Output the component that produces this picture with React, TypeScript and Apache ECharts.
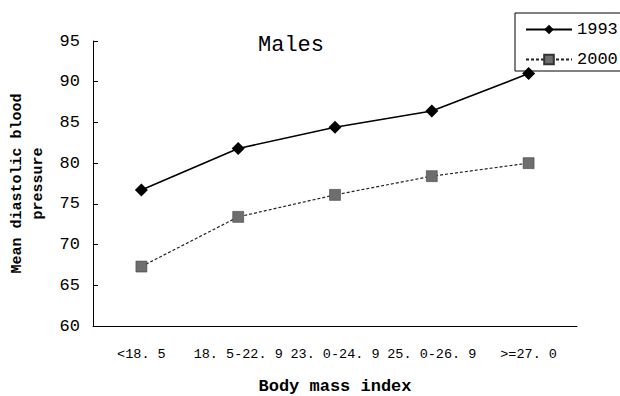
import React, { useEffect, useRef } from "react";
import * as echarts from "echarts";

const categories = ["<18. 5", "18. 5-22. 9", "23. 0-24. 9", "25. 0-26. 9", ">=27. 0"];
const values1993 = [76.7, 81.8, 84.4, 86.4, 91.0];
const values2000 = [67.3, 73.4, 76.1, 78.4, 80.0];
const yTicks = { min: 60, max: 95, interval: 5 };

export default function App() {
  const ref = useRef<HTMLDivElement>(null);
  useEffect(() => {
    document.body.style.margin = "0";
    if (!ref.current) return;
    const chart = echarts.init(ref.current, null, { renderer: "svg" });
    const mono = "Liberation Mono";
    chart.setOption({
      animation: false,
      backgroundColor: "#ffffff",
      title: {
        text: "Males",
        left: 286,
        top: 29,
        textAlign: "center",
        textStyle: { fontFamily: mono, fontSize: 22, fontWeight: "normal", color: "#000" },
      },
      legend: {
        orient: "vertical",
        left: 520,
        top: 16,
        itemWidth: 46,
        itemHeight: 12,
        itemGap: 13,
        textStyle: { fontFamily: mono, fontSize: 17, color: "#000" },
        data: ["1993", "2000"],
      },
      graphic: [
        {
          type: "rect",
          shape: { x: 515, y: 13, width: 120, height: 58 },
          style: { fill: "none", stroke: "#000", lineWidth: 1 },
          z: 10,
        },
      ],
      grid: { left: 93, right: 43, top: 41, bottom: 70, outerBoundsMode: "none", containLabel: false },
      xAxis: {
        type: "category",
        data: categories,
        boundaryGap: true,
        name: "Body mass index",
        nameLocation: "middle",
        nameGap: 52,
        nameTextStyle: { fontFamily: mono, fontSize: 17, fontWeight: "bold", color: "#000" },
        axisLine: { lineStyle: { color: "#000", width: 1 } },
        axisTick: { inside: true, length: 5, alignWithLabel: false, lineStyle: { color: "#000" } },
        axisLabel: { fontFamily: mono, fontSize: 13.5, color: "#000", margin: 21, interval: 0 },
        splitLine: { show: false },
      },
      yAxis: {
        type: "value",
        min: yTicks.min,
        max: yTicks.max,
        interval: yTicks.interval,
        name: "Mean diastolic blood\npressure",
        nameLocation: "middle",
        nameGap: 36,
        nameTextStyle: { fontFamily: mono, fontSize: 15, fontWeight: "bold", color: "#000", lineHeight: 21 },
        axisLine: { show: true, lineStyle: { color: "#000", width: 1 } },
        axisTick: { show: true, inside: true, length: 5, lineStyle: { color: "#000" } },
        axisLabel: { fontFamily: mono, fontSize: 17, color: "#000", margin: 13 },
        splitLine: { show: false },
      },
      series: [
        {
          name: "1993",
          type: "line",
          data: values1993,
          symbol: "diamond",
          symbolSize: 13,
          lineStyle: { color: "#000", width: 1.6, type: "solid" },
          itemStyle: { color: "#000" },
        },
        {
          name: "2000",
          type: "line",
          data: values2000,
          symbol: "rect",
          symbolSize: 11,
          lineStyle: { color: "#222", width: 1.2, type: [3, 2] },
          itemStyle: { color: "#6e6e6e", borderColor: "#333", borderWidth: 0.5 },
        },
      ],
    });
    return () => chart.dispose();
  }, []);
  return <div ref={ref} style={{ width: 620, height: 396 }} />;
}
